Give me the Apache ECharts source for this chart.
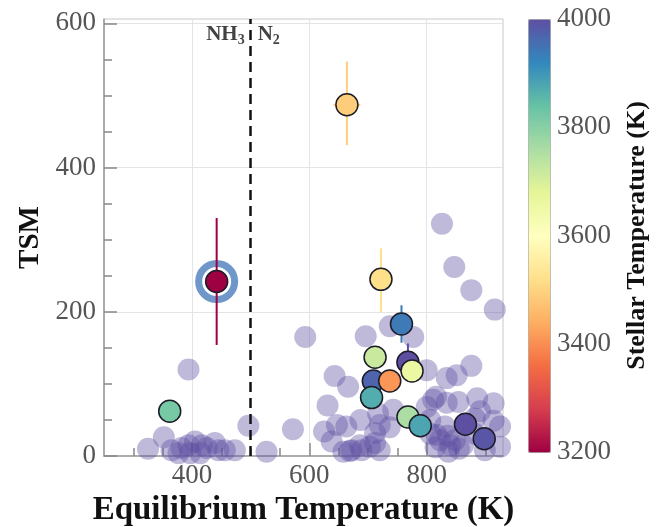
<!DOCTYPE html>
<html><head><meta charset="utf-8">
<script src="https://cdn.jsdelivr.net/npm/echarts@6/dist/echarts.min.js"></script>
<style>html,body{margin:0;padding:0;background:#fff}#c{width:668px;height:527px}</style>
</head><body><div id="c"></div>
<script>
// ---- background planets (purple, Tstar >= 4000 K) ----
const bgTeq = [325,352,365,377,382,394,397,405,414,417,425,439,445,456,473,394,496,527,572,593,
  631,643,666,625,638,647,663,687,717,743,712,737,720,712,672,689,703,658,669,686,696,737,777,
  826,847,876,916,800,834,851,876,816,834,854,886,914,800,811,914,891,831,806,806,817,823,836,848,
  815,862,925,925,882,837,899,882,840,855,720];
const bgTsm = [10,26,8,4,11,15,4,20,4,15,11,18,8,8,8,120,42,6,37,165,
  70,111,96,34,20,43,41,50,59,64,32,40,43,18,8,8,13,6,7,15,166,180,165,
  322,262,230,203,119,108,112,125,82,74,75,80,73,68,78,49,62,41,31,50,29,22,28,22,
  12,15,41,13,31,6,8,52,15,10,8];

// ---- highlighted planets (coloured by stellar temperature) ----
const hiTeq   = [442, 664, 722, 757, 712, 768, 775, 709, 737, 706, 768, 789, 866, 898, 362];
const hiTsm   = [242, 487, 245, 183, 137, 130, 118, 104, 104, 81, 54, 42, 44, 24, 62];
const hiTstar = [3200,3490,3520,3940,3720,4000,3660,3970,3410,3870,3760,3880,4000,3990,3820];
const hiYLo   = [154, 431, 200, 157, null, 103, null, null, null, null, null, null, null, null, null];
const hiYHi   = [330, 547, 288, 209, null, 156, null, null, null, null, null, null, null, null, null];
const hiXLo   = [null, 641, null, null, null, null, null, null, null, null, null, 768, null, null, null];
const hiXHi   = [null, 687, null, null, null, null, null, null, null, null, null, 810, null, null, null];

// ---- ticks ----
const xMajor = [400, 600, 800];
const xMinor = [300, 350, 450, 500, 550, 650, 700, 750, 850, 900];
const yMajor = [0, 200, 400, 600];
const yMinor = [50, 100, 150, 250, 300, 350, 450, 500, 550];
const boundaryTeq = 500;
const gasLabelTsm = 584;

const spectral = ['#9e0142','#d53e4f','#f46d43','#fdae61','#fee08b','#ffffbf','#e6f598','#abdda4','#66c2a5','#3288bd','#5e4fa2'];
const serif = '"Liberation Serif", "Times New Roman", serif';

const bgData = bgTeq.map((v, i) => [v, bgTsm[i]]);
const hiData = hiTeq.map((v, i) => [v, hiTsm[i], hiTstar[i]]);
const errData = hiTeq.map((v, i) => [v, hiTsm[i], hiTstar[i],
  hiYLo[i] == null ? NaN : hiYLo[i], hiYHi[i] == null ? NaN : hiYHi[i],
  hiXLo[i] == null ? NaN : hiXLo[i], hiXHi[i] == null ? NaN : hiXHi[i]]);

const chart = echarts.init(document.getElementById('c'), null, {renderer: 'canvas'});
const labelStyle = {fontFamily: serif, fontSize: 27, color: '#555'};
const nameStyle = {fontFamily: serif, fontWeight: 'bold', color: '#111'};

chart.setOption({
  animation: false,
  backgroundColor: '#fff',
  grid: [
    {left: 104, right: 165, top: 19, bottom: 71, show: true, borderColor: '#c8c8c8', borderWidth: 1,
     containLabel: false, outerBoundsMode: 'none'},
    {left: 528, top: 19, width: 22, height: 433, show: false, containLabel: false, outerBoundsMode: 'none'}
  ],
  xAxis: [
    {type: 'value', gridIndex: 0, min: 250, max: 930, splitNumber: 3,
     axisLine: {show: true, lineStyle: {color: '#999', width: 1.5}},
     axisTick: {show: true, inside: true, length: 13, customValues: xMajor, lineStyle: {color: '#888', width: 1.5}},
     axisLabel: {customValues: xMajor, margin: 6, ...labelStyle},
     splitLine: {show: true, lineStyle: {color: '#e4e4e4', width: 1}},
     name: 'Equilibrium Temperature (K)', nameLocation: 'middle', nameGap: 38,
     nameTextStyle: {...nameStyle, fontSize: 33}},
    {type: 'value', gridIndex: 0, min: 250, max: 930, splitNumber: 3, position: 'bottom',
     axisLine: {show: false}, axisLabel: {show: false}, splitLine: {show: false},
     axisTick: {show: true, inside: true, length: 8, customValues: xMinor, lineStyle: {color: '#888', width: 1.5}}},
    {type: 'value', gridIndex: 1, show: false, min: 0, max: 1}
  ],
  yAxis: [
    {type: 'value', gridIndex: 0, min: 0, max: 606, splitNumber: 3,
     axisLine: {show: true, lineStyle: {color: '#999', width: 1.5}},
     axisTick: {show: true, inside: true, length: 13, customValues: yMajor, lineStyle: {color: '#888', width: 1.5}},
     axisLabel: {customValues: yMajor, margin: 8, ...labelStyle},
     splitLine: {show: true, lineStyle: {color: '#e4e4e4', width: 1}},
     name: 'TSM', nameLocation: 'middle', nameGap: 58, nameRotate: 90,
     nameTextStyle: {...nameStyle, fontSize: 29}},
    {type: 'value', gridIndex: 0, min: 0, max: 606, splitNumber: 3, position: 'left',
     axisLine: {show: false}, axisLabel: {show: false}, splitLine: {show: false},
     axisTick: {show: true, inside: true, length: 8, customValues: yMinor, lineStyle: {color: '#888', width: 1.5}}},
    {type: 'value', gridIndex: 1, position: 'right', min: 3200, max: 4000, interval: 200,
     axisLine: {show: false}, axisTick: {show: false}, splitLine: {show: false},
     axisLabel: {margin: 7, formatter: v => String(v), ...labelStyle},
     name: 'Stellar Temperature (K)', nameLocation: 'middle', nameGap: 74, nameRotate: 90,
     nameTextStyle: {...nameStyle, fontSize: 26}}
  ],
  visualMap: {
    type: 'continuous', min: 3200, max: 4000, dimension: 2, seriesIndex: [2, 3],
    inRange: {color: spectral}, orient: 'vertical', left: 528, top: 19,
    itemWidth: 22, itemHeight: 433, calculable: false, padding: 0,
    borderColor: '#aaa', borderWidth: 1, text: null, hoverLink: false
  },
  series: [
    {type: 'scatter', xAxisIndex: 0, yAxisIndex: 0, data: bgData, symbolSize: 22, z: 1, silent: true,
     itemStyle: {color: 'rgba(94,79,162,0.5)'},
     markLine: {silent: true, symbol: 'none', label: {show: false},
       lineStyle: {color: '#111', width: 2.5, type: [10, 6]}, data: [{xAxis: boundaryTeq}]}},
    {type: 'scatter', xAxisIndex: 0, yAxisIndex: 0, symbolSize: 0, z: 5, silent: true,
     data: [
       {value: [boundaryTeq, gasLabelTsm], label: {show: true, position: 'left', distance: 6, formatter: '{a|NH}{s|3}'}},
       {value: [boundaryTeq, gasLabelTsm], label: {show: true, position: 'right', distance: 7, formatter: '{a|N}{s|2}'}}
     ],
     label: {rich: {
       a: {fontFamily: serif, fontSize: 21, fontWeight: 'bold', color: '#111', lineHeight: 26, verticalAlign: 'middle'},
       s: {fontFamily: serif, fontSize: 14, fontWeight: 'bold', color: '#111', lineHeight: 26, verticalAlign: 'bottom', padding: [10, 0, 0, 0]}
     }}},
    {type: 'custom', xAxisIndex: 0, yAxisIndex: 0, data: errData, z: 3, silent: true,
     renderItem: function (params, api) {
       const x = api.value(0), y = api.value(1);
       const color = api.visual('color');
       const children = [];
       const ylo = api.value(3), yhi = api.value(4), xlo = api.value(5), xhi = api.value(6);
       if (!isNaN(ylo) && !isNaN(yhi)) {
         const p1 = api.coord([x, ylo]), p2 = api.coord([x, yhi]);
         children.push({type: 'line', shape: {x1: p1[0], y1: p1[1], x2: p2[0], y2: p2[1]}, style: {stroke: color, lineWidth: 2}});
       }
       if (!isNaN(xlo) && !isNaN(xhi)) {
         const p1 = api.coord([xlo, y]), p2 = api.coord([xhi, y]);
         children.push({type: 'line', shape: {x1: p1[0], y1: p1[1], x2: p2[0], y2: p2[1]}, style: {stroke: color, lineWidth: 2}});
       }
       return {type: 'group', children: children};
     }},
    {type: 'scatter', xAxisIndex: 0, yAxisIndex: 0, data: hiData, symbolSize: 22, z: 4, silent: true,
     itemStyle: {borderColor: '#1c1c28', borderWidth: 1.5, opacity: 1}},
    {type: 'scatter', xAxisIndex: 0, yAxisIndex: 0, data: [hiData[0]], symbolSize: 36, z: 2, silent: true,
     itemStyle: {color: 'rgba(255,255,255,0)', borderColor: '#4c7dbd', borderWidth: 7}},
    {type: 'scatter', xAxisIndex: 2, yAxisIndex: 2, data: []}
  ]
});
</script></body></html>
